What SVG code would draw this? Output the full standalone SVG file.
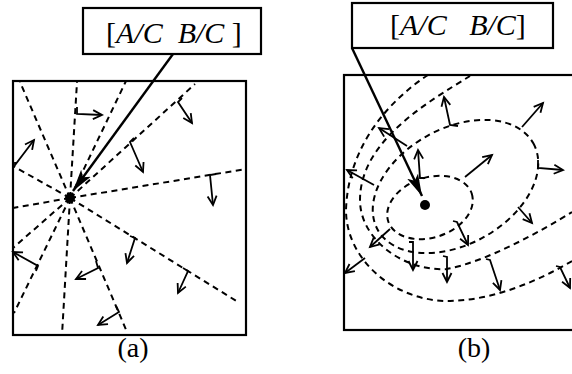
<svg xmlns="http://www.w3.org/2000/svg" width="572" height="374" viewBox="0 0 572 374">
<style>
.frame{fill:none;stroke:#000;stroke-width:2.2}
.lbl{fill:#fff;stroke:#000;stroke-width:2.2}
.dash{fill:none;stroke:#000;stroke-width:2;stroke-dasharray:6 4.5}
.vec{fill:none;stroke:#000;stroke-width:1.8;marker-end:url(#open)}
.main{fill:none;stroke:#000;stroke-width:2.4;marker-end:url(#solid)}
text{font-family:"Liberation Serif","Times New Roman",serif;fill:#000}
.it{font-style:italic}
</style>
<defs>
<marker id="open" markerUnits="userSpaceOnUse" markerWidth="14" markerHeight="14" viewBox="0 0 14 14" refX="11" refY="7" orient="auto">
<path d="M2,2.5 L11,7 L2,11.5" fill="none" stroke="#000" stroke-width="1.8"/>
</marker>
<marker id="solid" markerUnits="userSpaceOnUse" markerWidth="24" markerHeight="16" viewBox="0 0 24 16" refX="22" refY="8" orient="auto">
<path d="M0,2 L22,8 L0,14 L5,8 z" fill="#000"/>
</marker>
</defs>

<g id="panel-a">
<rect class="frame" x="13" y="81" width="233" height="254"/>
<g id="rays-a">
<path class="dash" d="M70,198 L20,82"/>
<path class="dash" d="M70,198 L77,82"/>
<path class="dash" d="M70,198 L126,81"/>
<path class="dash" d="M70,198 L195,84"/>
<path class="dash" d="M70,198 L246,169"/>
<path class="dash" d="M70,198 L13,166"/>
<path class="dash" d="M70,198 L13,208"/>
<path class="dash" d="M70,198 L13,248"/>
<path class="dash" d="M70,198 L14,313"/>
<path class="dash" d="M70,198 L62,335"/>
<path class="dash" d="M70,198 L127,332"/>
<path class="dash" d="M70,198 L238,302"/>
</g>
<g id="vectors-a">
<path class="vec" d="M77,107 L77,114 L102,115"/>
<path class="vec" d="M182,98 L178,102 L192,123"/>
<path class="vec" d="M15,162 L15,165 L34,140"/>
<path class="vec" d="M134,138 L130,142 L143,172"/>
<path class="vec" d="M216,174 L210,175 L213,205"/>
<path class="vec" d="M36,271 L38,266 L13,252"/>
<path class="vec" d="M96,261 L98,268 L76,279"/>
<path class="vec" d="M130,236 L135,238 L127,263"/>
<path class="vec" d="M183,268 L188,271 L178,293"/>
<path class="vec" d="M116,306 L119,312 L98,325"/>
</g>
<circle cx="70" cy="198" r="5"/>
</g>

<g id="panel-b">
<rect class="frame" x="344" y="75" width="240" height="255"/>
<g id="contours-b">
<ellipse class="dash" cx="430" cy="207.5" rx="44" ry="30" transform="rotate(-18.5 430 207.5)"/>
<ellipse class="dash" cx="455.5" cy="186.5" rx="89" ry="58" transform="rotate(-29 455.5 186.5)"/>
<path class="dash" d="M470,76 C430,101 360,140 360,200 C360,240 405,272 447,269 C485,262 540,232 572,212"/>
<path class="dash" d="M428,75 C390,100 348,145 346,210 C346,260 395,302 450,301 C495,300 540,280 572,261"/>
</g>
<g id="vectors-b">
<path class="vec" d="M458,126 L450,125 L444,97"/>
<path class="vec" d="M522,127 L543,103"/>
<path class="vec" d="M538,160 L538,168 L563,170"/>
<path class="vec" d="M465,177 L492,155"/>
<path class="vec" d="M425,178 L420,178 L418,150"/>
<path class="vec" d="M407,146 L379,128"/>
<path class="vec" d="M374,185 L347,170"/>
<path class="vec" d="M390,229 L370,247"/>
<path class="vec" d="M365,258 L345,273"/>
<path class="vec" d="M409,242 L413,242 L413,270"/>
<path class="vec" d="M443,256 L447,257 L447,282"/>
<path class="vec" d="M453,221 L457,222 L468,245"/>
<path class="vec" d="M486,259 L490,260 L500,290"/>
<path class="vec" d="M518,207 L532,223"/>
<path class="vec" d="M556,266 L560,267 L570,288"/>
</g>
<circle cx="425" cy="205" r="5"/>
</g>

<g id="label-a">
<rect class="lbl" x="83" y="8" width="178" height="46"/>
<text x="106" y="43" font-size="30" xml:space="preserve">[<tspan class="it">A/C  B/C</tspan> ]</text>
</g>
<g id="label-b">
<rect class="lbl" x="352" y="3" width="201" height="45"/>
<text x="390" y="35" font-size="30" xml:space="preserve">[<tspan class="it">A/C   B/C</tspan>]</text>
</g>

<g id="connectors">
<path class="main" d="M173,54 L73,191"/>
<path class="main" d="M352,48 L422,196"/>
</g>

<g id="captions">
<text x="133" y="357" font-size="28" text-anchor="middle">(a)</text>
<text x="474" y="357" font-size="28" text-anchor="middle">(b)</text>
</g>
</svg>
